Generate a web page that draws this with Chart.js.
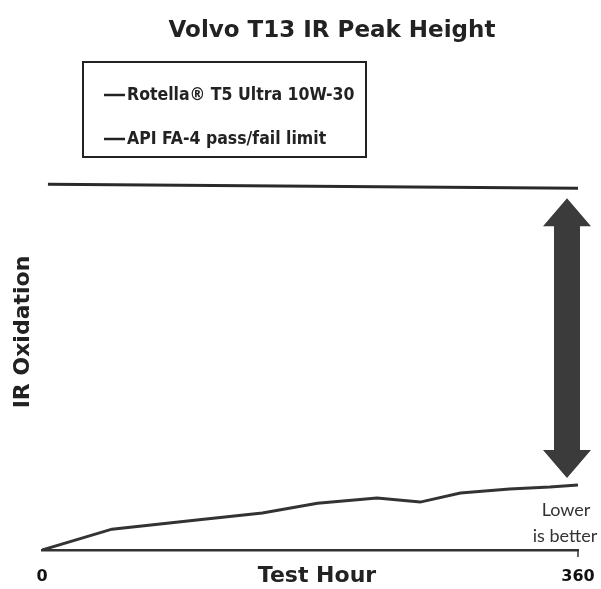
<!DOCTYPE html>
<html>
<head>
<meta charset="utf-8">
<script src="https://cdn.jsdelivr.net/npm/chart.js@4.4.1/dist/chart.umd.min.js"></script>
<style>
  html, body { margin: 0; padding: 0; background: #fff; }
  #wrap { width: 601px; height: 589px; }
</style>
</head>
<body>
<div id="wrap"><canvas id="grafico"></canvas></div>
<script>
'use strict';

// Datos (unidades relativas, limite = 100)
const horasPrueba = [0, 47, 104, 148, 185, 225, 254, 281, 314, 341, 360];
const valoresRotella = [0, 5.7, 8.2, 10.1, 12.8, 14.2, 13.1, 15.6, 16.7, 17.2, 17.8];
const horasLimite = [4, 360];
const valoresLimite = [100, 98.9];
const ticksHora = [0, 360];

const titulo = "Volvo T13 IR Peak Height";
const etiquetas = ["Rotella\u00ae T5 Ultra 10W-30", "API FA-4 pass/fail limit"];

const fuenteNegrita = "'DejaVu Sans', sans-serif";
const fuenteCondensada = "'DejaVu Sans Condensed', 'DejaVu Sans', sans-serif";

/**
 * Dibuja titulo, leyenda, flecha y textos extra.
 */
const extras = {
    id: 'extras',
    afterDraw(chart) {
        const { ctx, scales } = chart;
        const y = scales.y;
        ctx.save();

        // Titulo
        ctx.fillStyle = '#222';
        ctx.font = `bold 23px ${fuenteNegrita}`;
        ctx.textAlign = 'center';
        ctx.textBaseline = 'middle';
        ctx.fillText(titulo, 332, 31);

        // Titulo eje Y
        ctx.save();
        ctx.translate(23, 332);
        ctx.rotate(-Math.PI / 2);
        ctx.font = `bold 22px ${fuenteNegrita}`;
        ctx.fillText("IR Oxidation", 0, 0);
        ctx.restore();

        // Leyenda en caja
        ctx.strokeStyle = '#222';
        ctx.lineWidth = 2;
        ctx.strokeRect(83, 62, 283, 95);
        ctx.font = `bold 17.5px ${fuenteCondensada}`;
        ctx.textAlign = 'left';
        [95, 139].forEach((yy, i) => {
            ctx.beginPath();
            ctx.lineWidth = 2.5;
            ctx.moveTo(104, yy);
            ctx.lineTo(125, yy);
            ctx.stroke();
            ctx.fillText(etiquetas[i], 127, yy);
        });

        // Flecha doble
        const cx = 567;
        const arriba = y.getPixelForValue(valoresLimite[valoresLimite.length - 1]) + 10;
        const abajo = y.getPixelForValue(valoresRotella[valoresRotella.length - 1]) - 7;
        const medio = 13, cabeza = 24, alto = 28;
        ctx.fillStyle = '#3b3b3b';
        ctx.beginPath();
        ctx.moveTo(cx, arriba);
        ctx.lineTo(cx + cabeza, arriba + alto);
        ctx.lineTo(cx + medio, arriba + alto);
        ctx.lineTo(cx + medio, abajo - alto);
        ctx.lineTo(cx + cabeza, abajo - alto);
        ctx.lineTo(cx, abajo);
        ctx.lineTo(cx - cabeza, abajo - alto);
        ctx.lineTo(cx - medio, abajo - alto);
        ctx.lineTo(cx - medio, arriba + alto);
        ctx.lineTo(cx - cabeza, arriba + alto);
        ctx.closePath();
        ctx.fill();

        // Lower is better
        ctx.fillStyle = '#333';
        ctx.font = "18px Lato, sans-serif";
        ctx.textAlign = 'center';
        ctx.fillText("Lower", 566, 510);
        ctx.fillText("is better", 565, 536);

        // Titulo eje X (en la misma fila que los ticks)
        ctx.fillStyle = '#222';
        ctx.font = `bold 22px ${fuenteNegrita}`;
        ctx.fillText("Test Hour", 317, 576);

        // Pequeña marca al final del eje X
        const xFin = scales.x.getPixelForValue(360);
        ctx.strokeStyle = '#333';
        ctx.lineWidth = 1.5;
        ctx.beginPath();
        ctx.moveTo(xFin, chart.chartArea.bottom);
        ctx.lineTo(xFin, chart.chartArea.bottom + 7);
        ctx.stroke();

        ctx.restore();
    }
};

const ctx = document.getElementById("grafico").getContext("2d");

new Chart(ctx, {
    type: 'line',
    data: {
        datasets: [
            {
                label: etiquetas[0],
                data: horasPrueba.map((h, i) => ({ x: h, y: valoresRotella[i] })),
                borderColor: '#333',
                borderWidth: 3,
                pointRadius: 0,
                tension: 0
            },
            {
                label: etiquetas[1],
                data: horasLimite.map((h, i) => ({ x: h, y: valoresLimite[i] })),
                borderColor: '#2a2a2a',
                borderWidth: 3,
                pointRadius: 0,
                tension: 0
            }
        ]
    },
    options: {
        responsive: true,
        maintainAspectRatio: false,
        animation: false,
        layout: { padding: { top: 60, left: 42, right: 23, bottom: 1 } },
        plugins: {
            legend: { display: false },
            title: { display: false },
            tooltip: { enabled: false }
        },
        scales: {
            x: {
                type: 'linear',
                min: 0,
                max: 360,
                afterBuildTicks: axis => { axis.ticks = ticksHora.map(v => ({ value: v })); },
                afterFit: axis => {
                    axis.height = 38;
                    axis.paddingLeft = 0;
                    axis.paddingRight = 0;
                },
                grid: { display: false, drawTicks: false },
                border: { display: true, color: '#333', width: 2.5 },
                ticks: {
                    padding: 17,
                    color: '#111',
                    maxRotation: 0,
                    autoSkip: false,
                    font: { family: fuenteNegrita, size: 16, weight: 'bold' }
                }
            },
            y: {
                min: 0,
                max: 134,
                afterFit: axis => { axis.width = 0; },
                grid: { display: false, drawTicks: false },
                border: { display: false },
                ticks: { display: false }
            }
        }
    },
    plugins: [extras]
});
</script>
</body>
</html>
